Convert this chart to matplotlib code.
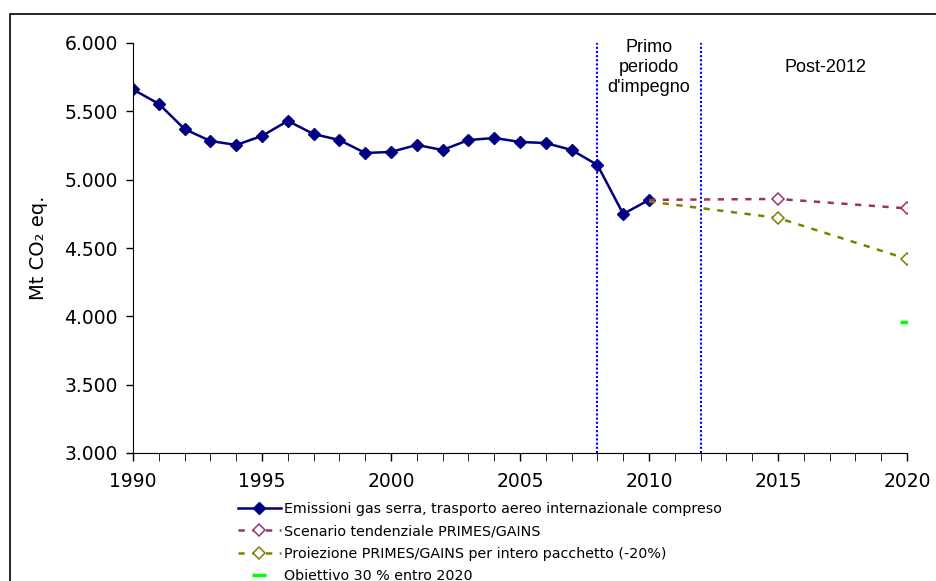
import numpy as np
import matplotlib
matplotlib.use('Agg')
import matplotlib.pyplot as plt
from matplotlib.patches import Rectangle

# storico emissioni (Mt CO2 eq.)
anni = list(range(1990, 2011))
emissioni = [5660, 5555, 5370, 5283, 5254, 5320, 5430, 5334, 5290, 5195, 5203,
             5254, 5217, 5290, 5305, 5276, 5268, 5217, 5108, 4749, 4852]

# scenari
anni_scen = [2010, 2015, 2020]
tendenziale = [4852, 4859, 4790]
proiezione = [4840, 4720, 4420]
obiettivo_anno = [2020]
obiettivo = [3960]

periodo = [2008, 2012]

fig = plt.figure(figsize=(9.37, 5.81), dpi=100)
ax = fig.add_axes([133/937, 128/581, 774/937, 410/581])

ax.plot(anni, emissioni, color='#000080', lw=1.8, marker='D', ms=6,
        label='Emissioni gas serra, trasporto aereo internazionale compreso')
ax.plot(anni_scen, tendenziale, color='#993366', lw=1.8, ls=(0, (2.5, 3)),
        marker='D', ms=6, mfc='white', markevery=[1, 2], mew=1.1,
        label='Scenario tendenziale PRIMES/GAINS')
ax.plot(anni_scen, proiezione, color='#808000', lw=1.8, ls=(0, (2.5, 3)),
        marker='D', ms=6, mfc='white', markevery=[1, 2], mew=1.1,
        label='Proiezione PRIMES/GAINS per intero pacchetto (-20%)')
ax.plot(obiettivo_anno, obiettivo, ls='none', marker='_', ms=10, mew=2.5,
        color='#00FF00', label='Obiettivo 30 % entro 2020')

for x in periodo:
    ax.axvline(x, color='#0000FF', lw=1.5, ls=(0, (1, 1)))

ax.text(2010, 6030, "Primo\nperiodo\nd'impegno", ha='center', va='top',
        fontsize=13, family='Liberation Sans', linespacing=1.25)
ax.text(2016.85, 5820, 'Post-2012', ha='center', va='center',
        fontsize=13, family='Liberation Sans')

ax.set_xlim(1990, 2020)
ax.set_ylim(3000, 6000)
ax.set_xticks(range(1990, 2021, 5))
ax.set_xticks(range(1990, 2021), minor=True)
ax.set_yticks(range(3000, 6001, 500))
ax.set_yticklabels([f'{v:,}'.replace(',', '.') for v in range(3000, 6001, 500)])
ax.tick_params(labelsize=13.5, direction='out', length=5, width=1, pad=6)
ax.tick_params(axis='x', which='both', length=6, pad=8)
ax.spines['top'].set_visible(False)
ax.spines['right'].set_visible(False)
ax.set_ylabel('Mt CO₂ eq.', fontsize=14, labelpad=12)

leg = fig.legend(loc='upper left', bbox_to_anchor=(232/937, 1 - 496/581),
                 frameon=False, fontsize=10.3, handlelength=3.0,
                 handletextpad=0.2, labelspacing=0.6, borderaxespad=0)

fig.patches.append(Rectangle((10/937, -0.2), 2, 1.2 - 14/581,
                             transform=fig.transFigure, fill=False,
                             lw=1.2, ec='black'))

fig.savefig('out.png', dpi=100)
